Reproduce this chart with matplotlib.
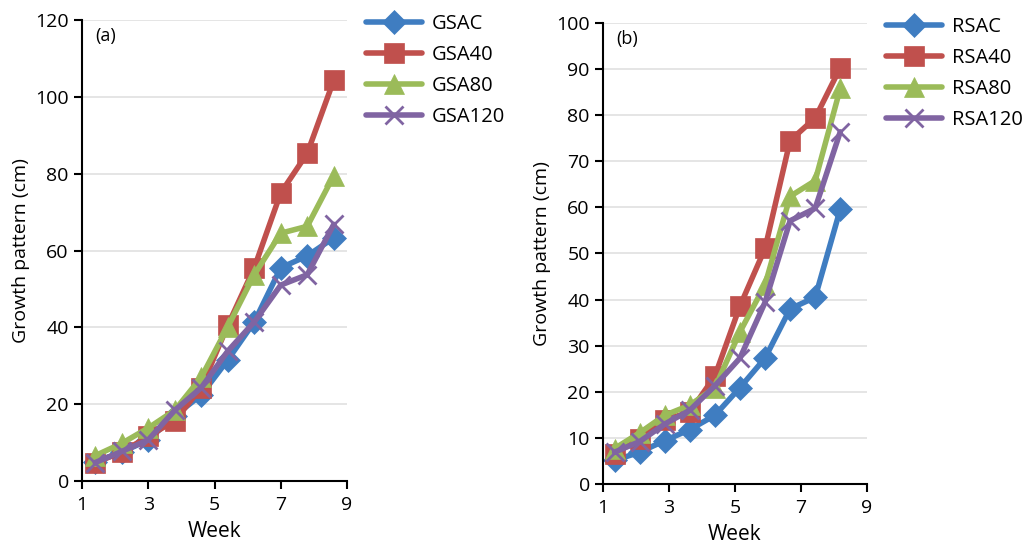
import matplotlib.pyplot as plt

plt.rcParams['font.family'] = ['Open Sans', 'DejaVu Sans']

# week positions of the ten measurements
week_a = [1.4, 2.2, 3.0, 3.8, 4.6, 5.4, 6.2, 7.0, 7.8, 8.6]
week_b = [1.35, 2.11, 2.87, 3.63, 4.39, 5.15, 5.91, 6.67, 7.43, 8.19]

# (a) growth pattern
gsac = [5.0, 7.5, 10.7, 17.0, 22.4, 31.5, 41.4, 55.5, 58.6, 63.3]
gsa40 = [4.8, 7.5, 11.6, 15.7, 24.3, 40.5, 55.5, 75.0, 85.3, 104.3]
gsa80 = [6.6, 9.8, 13.8, 18.4, 27.0, 40.1, 53.7, 64.5, 66.3, 79.5]
gsa120 = [4.8, 7.7, 10.7, 18.4, 24.3, 33.8, 41.4, 51.0, 53.7, 66.8]

# (b) growth pattern
rsac = [5.1, 6.9, 9.4, 11.8, 14.9, 20.9, 27.3, 38.0, 40.5, 59.6]
rsa40 = [6.6, 9.8, 13.9, 15.6, 23.4, 38.6, 51.1, 74.5, 79.4, 90.3]
rsa80 = [7.7, 11.1, 14.9, 17.1, 20.9, 33.0, 43.2, 62.4, 65.8, 85.8]
rsa120 = [6.9, 9.2, 13.0, 16.0, 21.3, 27.3, 39.4, 57.1, 59.8, 76.4]

colors = ['#3F7DC1', '#C0504D', '#9BBB59', '#8064A2']
markers = ['D', 's', '^', 'x']
msizes = [12, 14, 14, 13]

fig = plt.figure(figsize=(10.32, 5.45), dpi=100)
ax1 = fig.add_axes([82 / 1032, 1 - 481 / 545, 265 / 1032, 461 / 545])
ax2 = fig.add_axes([603 / 1032, 1 - 484 / 545, 264 / 1032, 461 / 545])


def draw(ax, x, series, names, ymax, ystep, label, legx):
    for y, name, c, m, ms in zip(series, names, colors, markers, msizes):
        ax.plot(x, y, color=c, lw=4, marker=m, markersize=ms,
                markeredgewidth=2 if m == 'x' else 0.5, markeredgecolor=c,
                label=name, solid_capstyle='round', solid_joinstyle='round')
    ax.set_xlim(1, 9)
    ax.set_ylim(0, ymax)
    ax.set_xticks([1, 3, 5, 7, 9])
    ax.set_yticks(range(0, ymax + 1, ystep))
    ax.yaxis.grid(True, color='#E0E0E0', lw=1.2)
    ax.set_axisbelow(True)
    for s in ['top', 'right']:
        ax.spines[s].set_visible(False)
    for s in ['left', 'bottom']:
        ax.spines[s].set_linewidth(1.5)
    ax.tick_params(direction='out', length=6, width=1.5, labelsize=14)
    ax.tick_params(axis='x', pad=5)
    ax.set_xlabel('Week', fontsize=15, labelpad=5)
    ax.set_ylabel('Growth pattern (cm)', fontsize=14)
    ax.text(0.05, 0.985, label, transform=ax.transAxes, fontsize=13, va='top')
    ax.legend(loc='upper left', bbox_to_anchor=(legx, 1.03), frameon=False,
              fontsize=14.5, handlelength=2.8, handletextpad=0.5,
              labelspacing=0.55, borderaxespad=0)


draw(ax1, week_a, [gsac, gsa40, gsa80, gsa120],
     ['GSAC', 'GSA40', 'GSA80', 'GSA120'], 120, 20, '(a)', 1.04)
draw(ax2, week_b, [rsac, rsa40, rsa80, rsa120],
     ['RSAC', 'RSA40', 'RSA80', 'RSA120'], 100, 10, '(b)', 1.04)

fig.savefig('out.png', dpi=100)
